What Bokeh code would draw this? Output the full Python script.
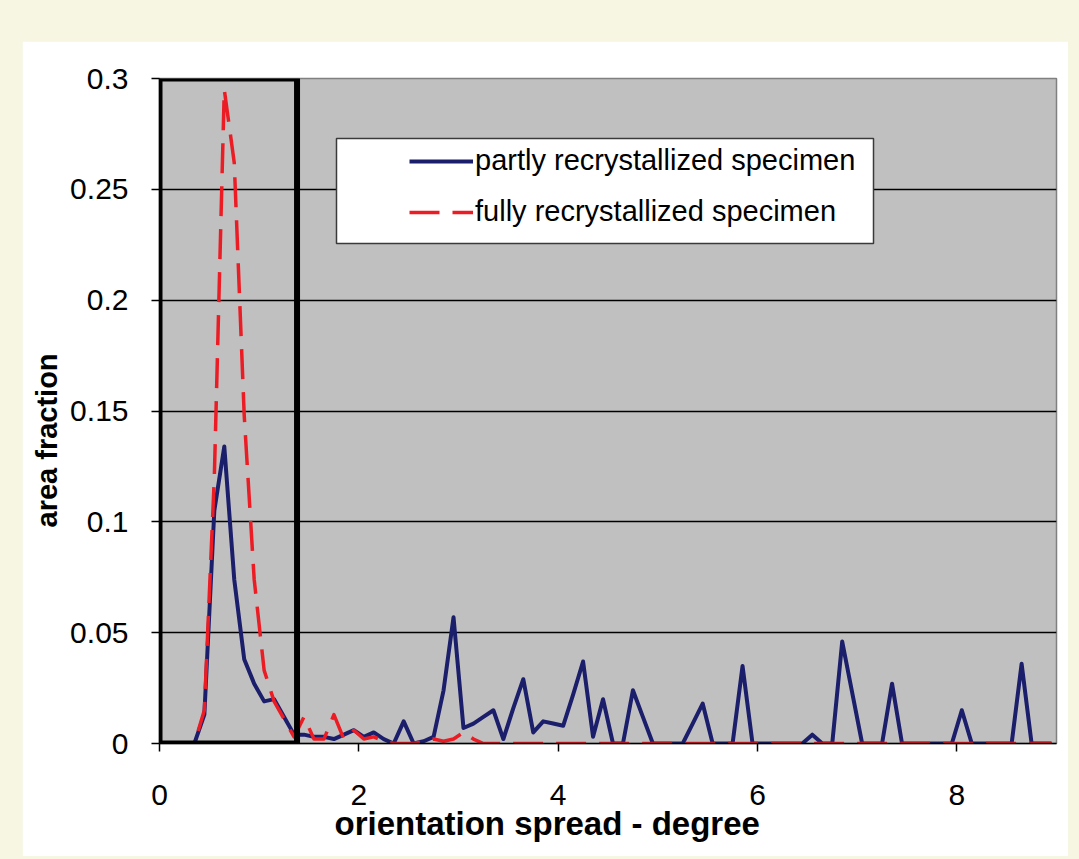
from bokeh.plotting import figure
from bokeh.models import (FixedTicker, Legend, LegendItem, BoxAnnotation,
                          Title, Range1d, Spacer)
from bokeh.layouts import column, row
from bokeh.embed import file_html
from bokeh.resources import INLINE

# Orientation-spread histogram: bins of 0.1 degree, plotted at bin centres
BIN_WIDTH = 0.1
N_BINS = 90
spread_deg = [round(BIN_WIDTH * (i + 0.5), 2) for i in range(N_BINS)]

# area fraction per bin, partly recrystallized specimen
partly = [
    0.0, 0.0, 0.0, 0.0, 0.013, 0.105, 0.134, 0.074, 0.038, 0.027,     # 0.05 - 0.95
    0.019, 0.020, 0.012, 0.004, 0.004, 0.003, 0.003, 0.002, 0.004, 0.006,  # 1.05 - 1.95
    0.003, 0.005, 0.002, 0.0, 0.010, 0.0, 0.001, 0.003, 0.024, 0.057,  # 2.05 - 2.95
    0.007, 0.009, 0.012, 0.015, 0.002, 0.016, 0.029, 0.005, 0.010, 0.009,  # 3.05 - 3.95
    0.008, 0.022, 0.037, 0.003, 0.020, 0.0, 0.0, 0.024, 0.012, 0.0,    # 4.05 - 4.95
    0.0, 0.0, 0.0, 0.009, 0.018, 0.0, 0.0, 0.0, 0.035, 0.0,            # 5.05 - 5.95
    0.0, 0.0, 0.0, 0.0, 0.0, 0.004, 0.0, 0.0, 0.046, 0.023,            # 6.05 - 6.95
    0.0, 0.0, 0.0, 0.027, 0.0, 0.0, 0.0, 0.0, 0.0, 0.0,                # 7.05 - 7.95
    0.015, 0.0, 0.0, 0.0, 0.0, 0.0, 0.036, 0.0, 0.0, 0.0,              # 8.05 - 8.95
]

# area fraction per bin, fully recrystallized specimen
fully = [
    0.0, 0.0, 0.0, 0.0, 0.015, 0.120, 0.295, 0.262, 0.148, 0.074,     # 0.05 - 0.95
    0.033, 0.019, 0.011, 0.003, 0.012, 0.002, 0.002, 0.013, 0.002, 0.006,  # 1.05 - 1.95
    0.002, 0.003, 0.001, 0.0, 0.0, 0.0, 0.001, 0.002, 0.001, 0.002,    # 2.05 - 2.95
    0.005, 0.002, 0.0, 0.0, 0.0, 0.0, 0.0, 0.0, 0.0, 0.0,              # 3.05 - 3.95
    0.0, 0.0, 0.0, 0.0, 0.0, 0.0, 0.0, 0.0, 0.0, 0.0,                  # 4.05 - 4.95
    0.0, 0.0, 0.0, 0.0, 0.0, 0.0, 0.0, 0.0, 0.0, 0.0,                  # 5.05 - 5.95
    0.0, 0.0, 0.0, 0.0, 0.0, 0.0, 0.0, 0.0, 0.0, 0.0,                  # 6.05 - 6.95
    0.0, 0.0, 0.0, 0.0, 0.0, 0.0, 0.0, 0.0, 0.0, 0.0,                  # 7.05 - 7.95
    0.0, 0.0, 0.0, 0.0, 0.0, 0.0, 0.0, 0.0, 0.0, 0.0,                  # 8.05 - 8.95
]

series_names = ["partly recrystallized specimen", "fully recrystallized specimen"]
x_title = "orientation spread - degree"
y_title = "area fraction"
x_ticks = [0, 2, 4, 6, 8]
y_ticks = [0, 0.05, 0.1, 0.15, 0.2, 0.25, 0.3]
y_tick_labels = ["0", "0.05", "0.1", "0.15", "0.2", "0.25", "0.3"]
X_MAX, Y_MAX = 9, 0.3
# low-spread window outlined with a heavy frame
highlight_spread = [0, 1.38]

FONT = "Liberation Sans"
NAVY = "#1b1e6b"
RED = "#ec1c24"
FRAME_W, FRAME_H = 897, 665

p = figure(
    frame_width=FRAME_W, frame_height=FRAME_H,
    x_range=Range1d(0, X_MAX), y_range=Range1d(0, Y_MAX),
    output_backend="svg", toolbar_location=None,
    background_fill_color="#c0c0c0", border_fill_color="white",
    min_border_left=137, min_border_top=37,
    min_border_right=12, min_border_bottom=113,
)
p.outline_line_color = "#808080"
p.outline_line_width = 1.5

# axes
for ax in (p.xaxis, p.yaxis):
    ax.axis_line_color = "black"
    ax.axis_line_width = 1.5
    ax.major_tick_line_color = "black"
    ax.major_tick_line_width = 1.5
    ax.major_tick_out = 8
    ax.major_tick_in = 0
    ax.minor_tick_line_color = None
    ax.major_label_text_font = FONT
    ax.major_label_text_font_size = "30px"
    ax.major_label_text_color = "black"

p.xaxis.ticker = FixedTicker(ticks=x_ticks)
p.xaxis.major_label_standoff = 33

p.yaxis.ticker = FixedTicker(ticks=y_ticks)
p.yaxis.major_label_overrides = {t: s for t, s in zip(y_ticks, y_tick_labels)}
p.yaxis.major_label_standoff = 23

p.xgrid.visible = False
p.ygrid.ticker = FixedTicker(ticks=y_ticks[1:-1])
p.ygrid.grid_line_color = "black"
p.ygrid.grid_line_width = 1.3

# axis titles as side-panel titles, offset along the axis
p.add_layout(Title(
    text=x_title, align="left", offset=175, standoff=-10,
    text_font=FONT, text_font_style="bold", text_font_size="33px",
    text_color="black",
), "below")
p.add_layout(Title(
    text=y_title, align="left", offset=216, standoff=9,
    text_font=FONT, text_font_style="bold", text_font_size="29px",
    text_color="black",
), "left")

# data lines
r_partly = p.line(spread_deg, partly, line_color=NAVY, line_width=4,
                  line_join="round")
r_fully = p.line(spread_deg, fully, line_color=RED, line_width=3.5,
                 line_dash="30 13", line_join="round")


def px_to_x(px):
    """Horizontal frame pixel offset -> data x."""
    return px / FRAME_W * X_MAX


def px_to_y(px_from_top):
    """Vertical frame pixel offset (from the top) -> data y."""
    return (FRAME_H - px_from_top) / FRAME_H * Y_MAX


# white legend panel
legend_panel = BoxAnnotation(
    left=px_to_x(177), right=px_to_x(714),
    top=px_to_y(60), bottom=px_to_y(165),
    fill_color="white", fill_alpha=1.0,
    line_color="#3a3a3a", line_alpha=1.0, line_width=1.5,
)
p.add_layout(legend_panel)

legend = Legend(
    items=[LegendItem(label=series_names[0], renderers=[r_partly]),
           LegendItem(label=series_names[1], renderers=[r_fully])],
    location=(250, 515), orientation="vertical",
    glyph_width=64, glyph_height=30, label_height=30,
    spacing=18, label_standoff=2, padding=0, margin=0,
    background_fill_alpha=0, border_line_alpha=0,
    label_text_font=FONT, label_text_font_size="29px",
    label_text_color="black",
)
p.add_layout(legend)

highlight = BoxAnnotation(
    left=highlight_spread[0], right=highlight_spread[1],
    bottom=0, top=Y_MAX,
    fill_alpha=0, line_color="black", line_alpha=1.0, line_width=6,
)
p.add_layout(highlight)

page = column(
    Spacer(width=1079, height=41),
    row(Spacer(width=22, height=815), p),
    width=1079, height=859,
    styles={"background-color": "#f6f6e2"},
)

open("out.html", "w").write(file_html(page, INLINE))
